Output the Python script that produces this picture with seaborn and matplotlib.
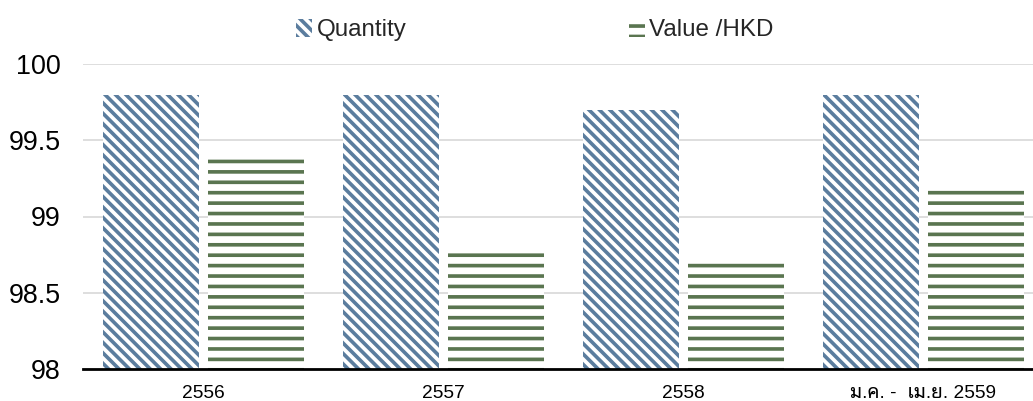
import matplotlib
matplotlib.use("Agg")
import matplotlib.pyplot as plt
from matplotlib.patches import Patch
import pandas as pd
import seaborn as sns

# Data
periods = ["2556", "2557", "2558", "ม.ค. -  เม.ย. 2559"]
series_names = ["Quantity", "Value /HKD"]
quantity = [99.8, 99.8, 99.7, 99.8]
value_hkd = [99.4, 98.78, 98.7, 99.2]
y_ticks = [98, 98.5, 99, 99.5, 100]
y_tick_labels = ["98", "98.5", "99", "99.5", "100"]

df = pd.DataFrame({
    "period": periods * 2,
    "series": [series_names[0]] * len(periods) + [series_names[1]] * len(periods),
    "pct": quantity + value_hkd,
})

sns.set_theme(style="white")
plt.rcParams["font.family"] = ["Liberation Sans", "Noto Sans Thai Looped", "DejaVu Sans"]
plt.rcParams["hatch.linewidth"] = 2.1

BS = chr(92)  # backslash
blue = "#5B7D9E"
green = "#5A7550"
hatches = {"Quantity": BS * 4, "Value /HKD": "--"}
colors = {"Quantity": blue, "Value /HKD": green}

DPI = 125
fig = plt.figure(figsize=(1033 / DPI, 401 / DPI), dpi=DPI)
ax = fig.add_axes([83 / 1033, 1 - 369 / 401, 1 - 83 / 1033, (369 - 64) / 401])

sns.barplot(data=df, x="period", y="pct", hue="series", order=periods,
            hue_order=series_names, width=0.875, gap=0.0857,
            palette=["white", "white"], legend=False, ax=ax, zorder=2)

n = len(periods)
for i, bar in enumerate(ax.patches[: 2 * n]):
    s = series_names[i // n]
    bar.set_facecolor("white")
    bar.set_edgecolor(colors[s])
    bar.set_linewidth(0)
    bar.set_hatch(hatches[s])

ax.set_ylim(98, 100)
ax.set_xlim(-0.5, 3.458)
ax.set_yticks(y_ticks, y_tick_labels)
ax.tick_params(axis="y", labelsize=15.5, length=0, pad=13, labelcolor="black")
ax.tick_params(axis="x", labelsize=11, length=0, pad=9, labelcolor="black")
ax.set_xlabel("")
ax.set_ylabel("")
ax.yaxis.grid(True, color="#D9D9D9", linewidth=1.0, zorder=0)
ax.set_axisbelow(True)
for side in ["left", "right", "top"]:
    ax.spines[side].set_visible(False)
ax.spines["bottom"].set_color("black")
ax.spines["bottom"].set_linewidth(1.6)
ax.spines["bottom"].set_zorder(5)

handles = [Patch(facecolor="white", edgecolor=colors[s], linewidth=0,
                 hatch=hatches[s], label=s) for s in series_names]
fig.legend(handles=handles, loc="center", bbox_to_anchor=(0.518, 0.925), ncol=2,
           frameon=False, fontsize=13.9, handlelength=0.65, handleheight=0.75,
           handletextpad=0.2, columnspacing=9.2)

fig.savefig("out.png", dpi=DPI)
